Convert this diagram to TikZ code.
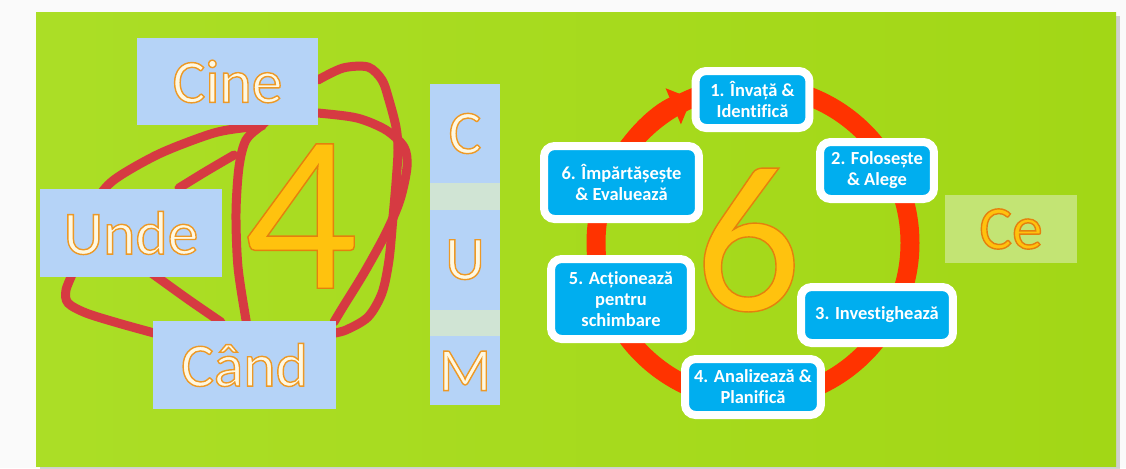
\documentclass[tikz,border=0pt]{standalone}
\usepackage{fontspec}
\setmainfont{Carlito}[Ligatures=NoCommon]
\usetikzlibrary{arrows.meta,shadows,positioning}
\definecolor{panelleft}{HTML}{ABDE26}
\definecolor{panelright}{HTML}{A2D716}
\definecolor{askblue}{HTML}{B5D3F7}
\definecolor{gapgrey}{HTML}{D0E4D4}
\definecolor{stageblue}{HTML}{00AEEF}
\definecolor{ringred}{HTML}{FF3300}
\definecolor{scribred}{HTML}{D63A42}
\definecolor{gold}{HTML}{FFC20E}
\definecolor{cream}{HTML}{FFF8E1}
\definecolor{cegreen}{HTML}{C3E474}
% text with a coloured rim (fill + stroke)
\newcommand{\rimtext}[2]{\special{pdf:literal direct #1 RG 0.8 w 2 Tr}#2\special{pdf:literal direct 0 Tr}}
\newcommand{\creamword}[1]{\textcolor{cream}{\rimtext{0.93 0.6 0.15}{#1}}}
\newcommand{\goldword}[1]{\textcolor{gold}{\rimtext{0.9 0.5 0.05}{#1}}}
\tikzset{
  basic/.style = {rectangle, inner sep=0pt, font=\fontsize{35}{35}\selectfont},
  ask/.style = {basic, fill=askblue, minimum width=3.64cm, minimum height=1.76cm},
  cum/.style = {basic, fill=askblue, minimum width=1.4cm},
  stage/.style = {rectangle, rounded corners=6pt, fill=stageblue, draw=white, line width=0.16cm,
    text=white, align=center, inner sep=1pt, font=\bfseries\fontsize{10.5}{12}\selectfont},
  ring/.style = {draw=ringred, line width=0.38cm},
  scribble/.style = {draw=scribred, line width=0.18cm, line cap=round, line join=round},
  bignum/.style = {inner sep=0pt, font=\fontsize{128}{128}\selectfont}
}
\begin{document}
\begin{tikzpicture}[x=0.02cm, y=-0.02cm]
\useasboundingbox (0,0) rectangle (1126,468);
\fill[white!96!gray] (0,0) rectangle (1126,468);
% green panel
\fill[left color=panelleft, right color=panelright, drop shadow={opacity=0.35}] (36,12) rectangle (1116,466);
% red scribble behind the question boxes
\draw[scribble] plot[smooth] coordinates {(318,80) (343,68) (368,67) (382,80) (389,100) (396,127) (398,150) (396,183) (393,217) (389,260) (382,293) (368,317) (346,330) (330,334)};
\draw[scribble] plot[smooth] coordinates {(300,112) (318,113) (357,118) (386,130) (404,147) (407,167) (400,200) (386,233) (364,273) (343,307) (334,322)};
\draw[scribble] plot[smooth] coordinates {(270,118) (262,125) (246,140) (239,167) (236,213) (238,267) (246,320) (248,330)};
\draw[scribble] plot[smooth] coordinates {(262,126) (250,127) (214,133) (161,153) (118,177) (100,195) (78,235) (74,268) (66,290) (68,303) (86,313) (118,323) (154,333) (165,336)};
\draw[scribble] plot[smooth] coordinates {(234,155) (205,172) (179,188)};
\draw[scribble] plot[smooth] coordinates {(150,272) (157,277) (189,300) (221,322)};
% the four questions
\node[ask, minimum width=3.62cm, minimum height=1.74cm] (cine) at (227.5,81.5) {\creamword{Cine}};
\node[ask] (unde) at (131,233) {\creamword{Unde}};
\node[ask, minimum width=3.66cm] (cand) at (244.5,365) {\creamword{Când}};
\node[bignum] (four) at (301,216) {\goldword{4}};
% CUM column
\fill[gapgrey] (430,84) rectangle (500,404);
\node[cum, minimum height=1.98cm] (c) at (465,133.5) {\creamword{C}};
\node[cum, minimum height=2cm, below=0.52cm of c] (u) {\creamword{U}};
\node[cum, minimum height=1.38cm, below=0.52cm of u] (m) {\creamword{M}};
% the cycle
\coordinate (ctr) at (753,243);
\draw[ring] (ctr) circle[radius=157];
\draw[ring, -{Triangle[length=0.4cm, width=0.76cm]}] ([shift={(205:157)}]ctr) arc[start angle=205, end angle=247, radius=157];
\node[bignum, font=\fontsize{120}{120}\selectfont] (six) at (748,240) {\goldword{6}};
\node[stage, minimum width=2.28cm, minimum height=1.14cm] (s1) at (752.5,99.5) {1. Învață \&\\Identifică};
\node[stage, minimum width=2.28cm, minimum height=1.14cm] (s2) at (877,170.5) {2. Folosește\\\& Alege};
\node[stage, minimum width=3.04cm, minimum height=1.12cm] (s3) at (877,315) {3. Investighează};
\node[stage, minimum width=2.72cm, minimum height=1.12cm] (s4) at (753,387) {4. Analizează \&\\Planifică};
\node[stage, minimum width=2.8cm, minimum height=1.6cm] (s5) at (621,299) {5. Acționează\\pentru\\schimbare};
\node[stage, minimum width=3.1cm, minimum height=1.46cm] (s6) at (621.5,182.5) {6. Împărtășește\\\& Evaluează};
% what
\node[basic, fill=cegreen, minimum width=2.64cm, minimum height=1.36cm] (ce) at (1011,229) {\goldword{Ce}};
\end{tikzpicture}
\end{document}
